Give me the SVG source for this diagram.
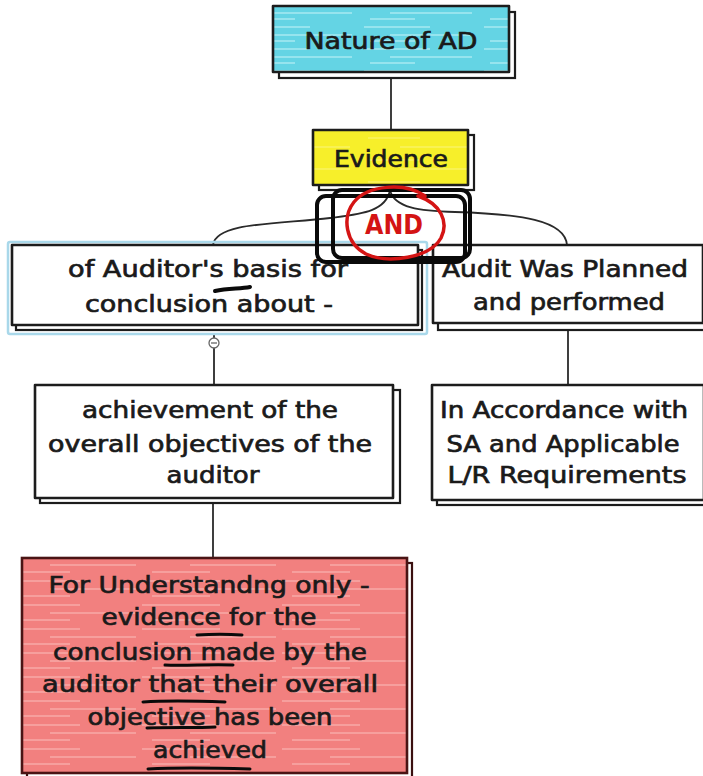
<svg xmlns="http://www.w3.org/2000/svg" width="703" height="776" viewBox="0 0 703 776">
  <style>
    .box { stroke: #1c1c1c; stroke-width: 2.6; stroke-linejoin: round; }
    .shadow { fill: #ffffff; stroke: #1c1c1c; stroke-width: 2.2; }
    .label { font-family: "DejaVu Sans", "Liberation Sans", sans-serif; font-size: 23px; fill: #1a1a1a; stroke: #1a1a1a; stroke-width: 0.7; text-anchor: middle; }
    .link { fill: none; stroke: #2a2a2a; stroke-width: 1.8; }
    .ink { fill: none; stroke: #0a0a0a; stroke-linecap: round; }
  </style>
  <defs>
    <pattern id="streakCyan" width="120" height="22" patternUnits="userSpaceOnUse">
      <rect width="120" height="22" fill="#64d4e4"/>
      <path d="M4,5 H70 M30,13 H112 M10,19 H55" stroke="#b8eef5" stroke-width="1.4" opacity="0.8"/>
    </pattern>
    <pattern id="streakYellow" width="120" height="22" patternUnits="userSpaceOnUse">
      <rect width="120" height="22" fill="#f7ef2a"/>
      <path d="M8,6 H60 M40,15 H110" stroke="#fbf7a0" stroke-width="1.2" opacity="0.7"/>
    </pattern>
    <pattern id="streakRed" width="140" height="24" patternUnits="userSpaceOnUse">
      <rect width="140" height="24" fill="#f2807f"/>
      <path d="M2,5 H80 M50,13 H136 M12,20 H70" stroke="#f8b3b0" stroke-width="1.4" opacity="0.8"/>
    </pattern>
  </defs>

  <!-- connectors -->
  <g id="connectors">
    <path class="link" d="M391,75 V130"/>
    <path class="link" d="M390,190 C386,212 360,214 330,218 C280,224 216,222 213,245"/>
    <path class="link" d="M390,190 C394,208 420,211 455,212 C520,214 565,220 567,245"/>
    <path class="link" d="M214,333 V338 M214,348 V385"/>
    <path class="link" d="M568,330 V385"/>
    <path class="link" d="M213,503 V558"/>
    <circle cx="214" cy="343" r="5" fill="#ffffff" stroke="#666" stroke-width="1.3"/>
    <path d="M211,343 H217" stroke="#666" stroke-width="1.3"/>
  </g>

  <!-- root -->
  <g id="node-nature">
    <rect class="shadow" x="279" y="12" width="236" height="66"/>
    <rect class="box" x="273" y="6" width="236" height="66" fill="url(#streakCyan)"/>
    <text class="label" x="391" y="49" textLength="173" lengthAdjust="spacingAndGlyphs">Nature of AD</text>
  </g>

  <g id="node-evidence">
    <rect class="shadow" x="319" y="135" width="155" height="55"/>
    <rect class="box" x="313" y="130" width="155" height="55" fill="url(#streakYellow)"/>
    <text class="label" x="391" y="167" textLength="114" lengthAdjust="spacingAndGlyphs">Evidence</text>
  </g>

  <g id="node-basis">
    <rect x="8" y="242" width="419" height="92" rx="2" fill="none" stroke="#a9d8ea" stroke-width="2.5"/>
    <rect class="shadow" x="16" y="250" width="406" height="80"/>
    <rect class="box" x="12" y="245" width="406" height="80" fill="#ffffff"/>
    <text class="label" x="208" y="277" textLength="280" lengthAdjust="spacingAndGlyphs">of Auditor's basis for</text>
    <text class="label" x="209" y="312" textLength="248" lengthAdjust="spacingAndGlyphs">conclusion about -</text>
    <path class="ink" d="M215,291 C228,288 240,289 250,287" stroke-width="4"/>
  </g>

  <g id="node-planned">
    <rect class="shadow" x="438" y="250" width="270" height="80"/>
    <rect class="box" x="433" y="245" width="270" height="78" fill="#ffffff"/>
    <text class="label" x="565" y="277" textLength="246" lengthAdjust="spacingAndGlyphs">Audit Was Planned</text>
    <text class="label" x="569" y="310" textLength="192" lengthAdjust="spacingAndGlyphs">and performed</text>
  </g>

  <g id="node-achievement">
    <rect class="shadow" x="40" y="390" width="360" height="113"/>
    <rect class="box" x="35" y="385" width="358" height="113" fill="#ffffff"/>
    <text class="label" x="210" y="418" textLength="256" lengthAdjust="spacingAndGlyphs">achievement of the</text>
    <text class="label" x="210" y="452" textLength="324" lengthAdjust="spacingAndGlyphs">overall objectives of the</text>
    <text class="label" x="213" y="483" textLength="93" lengthAdjust="spacingAndGlyphs">auditor</text>
  </g>

  <g id="node-accordance">
    <rect class="shadow" x="437" y="390" width="270" height="115"/>
    <rect class="box" x="432" y="385" width="272" height="115" fill="#ffffff"/>
    <text class="label" x="564" y="418" textLength="248" lengthAdjust="spacingAndGlyphs">In Accordance with</text>
    <text class="label" x="563" y="452" textLength="233" lengthAdjust="spacingAndGlyphs">SA and Applicable</text>
    <text class="label" x="567" y="483" textLength="239" lengthAdjust="spacingAndGlyphs">L/R Requirements</text>
  </g>

  <g id="node-understanding">
    <rect x="27" y="563" width="385" height="216" fill="#ffffff" stroke="#3a1010" stroke-width="2.2"/>
    <rect x="22" y="558" width="385" height="215" fill="url(#streakRed)" stroke="#4a1414" stroke-width="2.6"/>
    <text class="label" x="209" y="593" textLength="321" lengthAdjust="spacingAndGlyphs">For Understandng only -</text>
    <text class="label" x="209" y="625" textLength="215" lengthAdjust="spacingAndGlyphs">evidence for the</text>
    <text class="label" x="210" y="660" textLength="314" lengthAdjust="spacingAndGlyphs">conclusion made by the</text>
    <text class="label" x="210" y="692" textLength="336" lengthAdjust="spacingAndGlyphs">auditor that their overall</text>
    <text class="label" x="210" y="725" textLength="245" lengthAdjust="spacingAndGlyphs">objective has been</text>
    <text class="label" x="210" y="758" textLength="114" lengthAdjust="spacingAndGlyphs">achieved</text>
    <g class="ink" stroke-width="3">
      <path d="M197,635 C212,634 228,634 242,635"/>
      <path d="M165,665 C185,666 210,664 233,665"/>
      <path d="M143,702 C170,700 200,701 225,702"/>
      <path d="M147,728 C170,727 195,728 215,727"/>
      <path d="M148,769 C180,767 220,768 250,769"/>
    </g>
  </g>

  <!-- AND annotation -->
  <g id="and-mark">
    <rect x="317" y="196" width="148" height="66" rx="9" fill="none" stroke="#0a0a0a" stroke-width="4"/>
    <rect x="333" y="190" width="137" height="68" rx="9" fill="none" stroke="#0a0a0a" stroke-width="4"/>
    <path d="M425,196 C405,182 368,185 354,202 C342,217 345,243 366,254 C388,264 430,258 441,238 C449,222 441,204 418,196" fill="none" stroke="#d41414" stroke-width="3.5" stroke-linecap="round"/>
    <text x="394" y="234" font-family="DejaVu Sans, sans-serif" font-size="26" font-weight="bold" fill="#d41414" text-anchor="middle" textLength="58" lengthAdjust="spacingAndGlyphs">AND</text>
  </g>
</svg>
